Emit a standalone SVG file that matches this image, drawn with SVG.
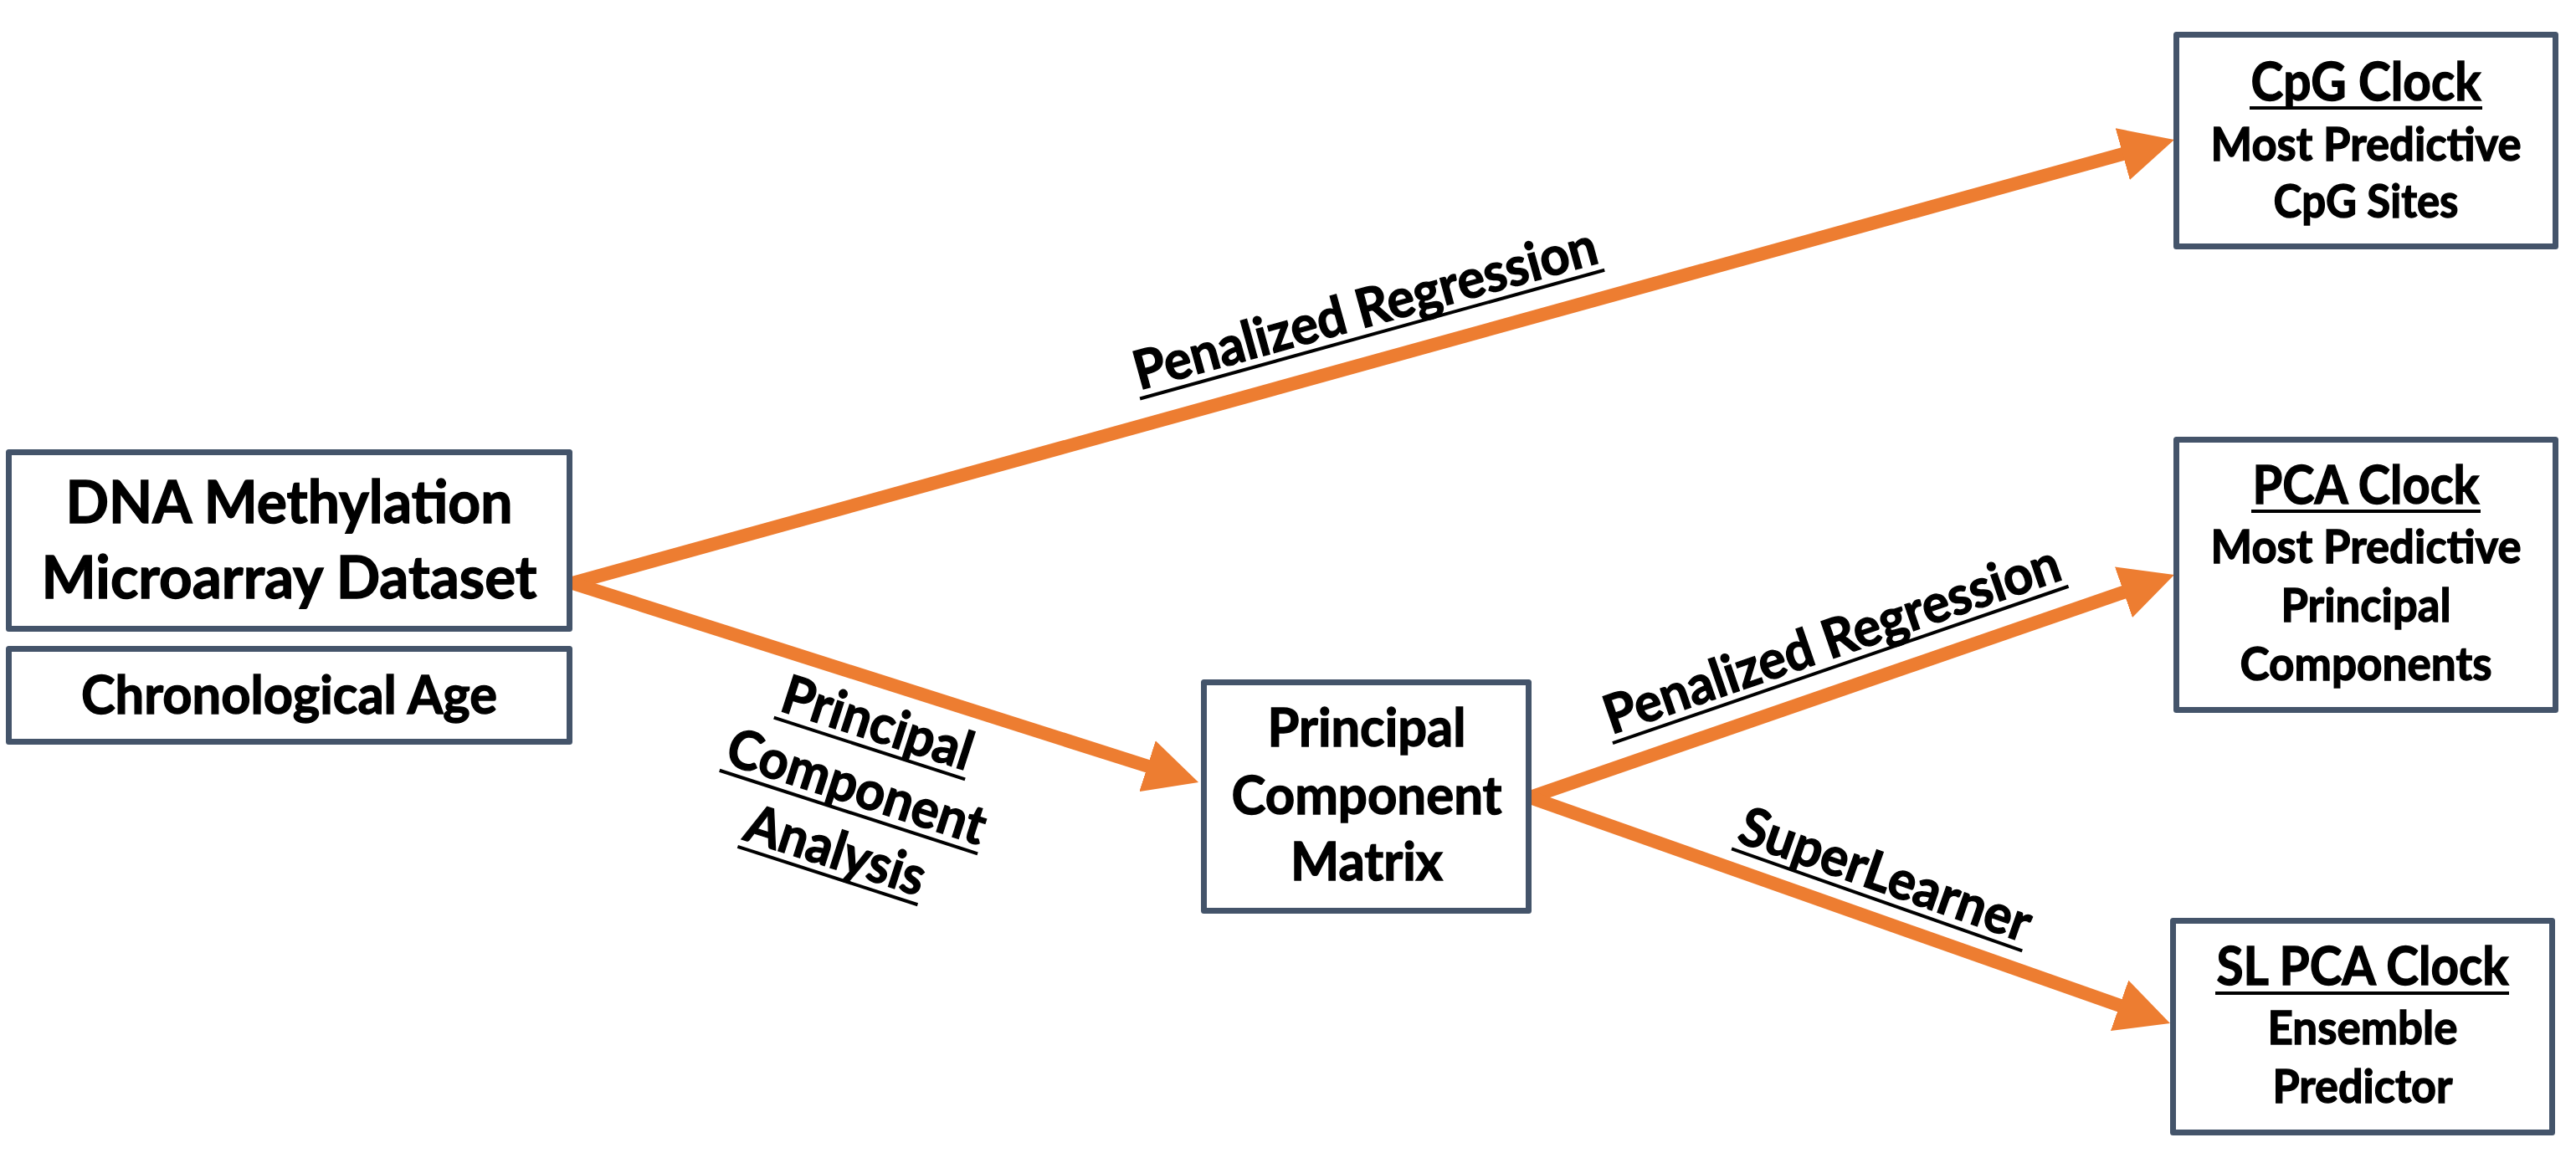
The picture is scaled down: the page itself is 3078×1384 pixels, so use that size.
<svg xmlns="http://www.w3.org/2000/svg" width="3078" height="1384" viewBox="0 0 3078 1384">
<style>
.box{fill:#FFFFFF;stroke:#44546A;stroke-width:7;stroke-linejoin:round}
.t{font-family:Lato,"Open Sans","Liberation Sans",sans-serif;font-weight:700;fill:#000000;stroke:#000000;stroke-width:1.4;text-anchor:middle}
.big{font-size:71px}
.mid{font-size:64px}
.sm{font-size:55px}
.ul{stroke:#000000;stroke-width:4}
.arr{stroke:#ED7D31;stroke-width:16;fill:none;marker-end:url(#ah)}
</style>
<defs>
<marker id="ah" viewBox="0 0 4 4" refX="1" refY="2" markerWidth="4" markerHeight="4" markerUnits="strokeWidth" orient="auto">
<path d="M0,0 L4,2 L0,4 z" fill="#ED7D31"/>
</marker>
</defs>
<rect width="3078" height="1384" fill="#FFFFFF"/>

<g id="connectors">
<line class="arr" x1="684" y1="697" x2="2551.7" y2="179.8"/>
<line class="arr" x1="684" y1="697" x2="1386.3" y2="920.5"/>
<line class="arr" x1="1828" y1="953" x2="2552.6" y2="702.6"/>
<line class="arr" x1="1828" y1="953" x2="2547.7" y2="1207.1"/>
<g id="label-pr1" transform="translate(1637,390) rotate(-15.48)">
<text class="t mid" x="0" y="0" textLength="572" lengthAdjust="spacingAndGlyphs">Penalized Regression</text>
<line class="ul" x1="-288" y1="10" x2="288" y2="10"/>
</g>
<g id="label-pca">
<g transform="translate(1042,885) rotate(17.9)">
<text class="t mid" x="0" y="0" textLength="236" lengthAdjust="spacingAndGlyphs">Principal</text>
<line class="ul" x1="-120" y1="10" x2="120" y2="10"/>
</g>
<g transform="translate(1017,961) rotate(17.9)">
<text class="t mid" x="0" y="0" textLength="321" lengthAdjust="spacingAndGlyphs">Component</text>
<line class="ul" x1="-162" y1="10" x2="162" y2="10"/>
</g>
<g transform="translate(992,1037) rotate(17.9)">
<text class="t mid" x="0" y="0" textLength="222" lengthAdjust="spacingAndGlyphs">Analysis</text>
<line class="ul" x1="-113" y1="10" x2="113" y2="10"/>
</g>
</g>
<g id="label-pr2" transform="translate(2196,785) rotate(-18.99)">
<text class="t mid" x="0" y="0" textLength="572" lengthAdjust="spacingAndGlyphs">Penalized Regression</text>
<line class="ul" x1="-288" y1="10" x2="288" y2="10"/>
</g>
<g id="label-sl" transform="translate(2246,1066) rotate(19.36)">
<text class="t mid" x="0" y="0" textLength="365" lengthAdjust="spacingAndGlyphs">SuperLearner</text>
<line class="ul" x1="-184" y1="10" x2="184" y2="10"/>
</g>
</g>

<g id="node-dna">
<rect class="box" x="10.5" y="540.5" width="670" height="211"/>
<text class="t big" x="345.5" y="625" textLength="534" lengthAdjust="spacingAndGlyphs">DNA Methylation</text>
<text class="t big" x="345.5" y="715" textLength="592" lengthAdjust="spacingAndGlyphs">Microarray Dataset</text>
</g>
<g id="node-age">
<rect class="box" x="10.5" y="775.5" width="670" height="111"/>
<text class="t mid" x="345.5" y="853" textLength="497" lengthAdjust="spacingAndGlyphs">Chronological Age</text>
</g>
<g id="node-pcm">
<rect class="box" x="1438.5" y="815.5" width="388" height="273"/>
<text class="t mid" x="1633" y="892" textLength="237" lengthAdjust="spacingAndGlyphs">Principal</text>
<text class="t mid" x="1633" y="973" textLength="323" lengthAdjust="spacingAndGlyphs">Component</text>
<text class="t mid" x="1633" y="1052" textLength="182" lengthAdjust="spacingAndGlyphs">Matrix</text>
</g>
<g id="node-cpg">
<rect class="box" x="2600.5" y="41.5" width="453" height="253"/>
<text class="t mid" x="2827" y="120" textLength="275" lengthAdjust="spacingAndGlyphs">CpG Clock</text>
<line class="ul" x1="2688" y1="129" x2="2966" y2="129"/>
<text class="t sm" x="2827" y="192" textLength="371" lengthAdjust="spacingAndGlyphs">Most Predictive</text>
<text class="t sm" x="2827" y="260" textLength="221" lengthAdjust="spacingAndGlyphs">CpG Sites</text>
</g>
<g id="node-pca">
<rect class="box" x="2600.5" y="525.5" width="453" height="323"/>
<text class="t mid" x="2827" y="602" textLength="271" lengthAdjust="spacingAndGlyphs">PCA Clock</text>
<line class="ul" x1="2690" y1="611" x2="2964" y2="611"/>
<text class="t sm" x="2827" y="673" textLength="371" lengthAdjust="spacingAndGlyphs">Most Predictive</text>
<text class="t sm" x="2827" y="743" textLength="203" lengthAdjust="spacingAndGlyphs">Principal</text>
<text class="t sm" x="2827" y="813" textLength="301" lengthAdjust="spacingAndGlyphs">Components</text>
</g>
<g id="node-sl">
<rect class="box" x="2596.5" y="1100.5" width="453" height="253"/>
<text class="t mid" x="2823" y="1177" textLength="349" lengthAdjust="spacingAndGlyphs">SL PCA Clock</text>
<line class="ul" x1="2647" y1="1187" x2="2998" y2="1187"/>
<text class="t sm" x="2823" y="1248" textLength="227" lengthAdjust="spacingAndGlyphs">Ensemble</text>
<text class="t sm" x="2823" y="1318" textLength="215" lengthAdjust="spacingAndGlyphs">Predictor</text>
</g>
</svg>
